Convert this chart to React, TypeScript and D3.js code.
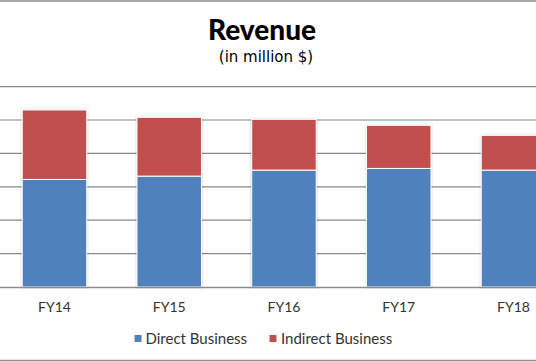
import React from "react";
import * as d3 from "d3";

const categories = ["FY14", "FY15", "FY16", "FY17", "FY18"];
const directBusiness = [322, 332, 350, 355, 350];
const indirectBusiness = [208, 176, 152, 129, 104];
const seriesNames = ["Direct Business", "Indirect Business"];
const seriesColors = ["#4F81BD", "#C0504D"];
const yTicks = [0, 100, 200, 300, 400, 500, 600];

const W = 536;
const H = 362;
const FONT = "Lato, 'Noto Sans', sans-serif";
const TFONT = "'DejaVu Sans', sans-serif";

export default function App() {
  const x = d3
    .scaleBand<string>()
    .domain(categories)
    .range([-2.9, 570.85])
    .paddingInner(0.438)
    .paddingOuter(0.219);
  const y = d3.scaleLinear().domain([0, 600]).range([287, 86.6]);

  const rows = categories.map((c, i) => ({
    cat: c,
    direct: directBusiness[i],
    indirect: indirectBusiness[i],
  }));
  const stack = d3.stack<any>().keys(["direct", "indirect"]);
  const layers = stack(rows);

  return (
    <svg
      width={W}
      height={H}
      style={{ position: "absolute", left: 0, top: 0, background: "#fff" }}
    >
      <defs>
        <filter id="sh" x="-10%" y="-10%" width="120%" height="120%">
          <feDropShadow dx="0" dy="0" stdDeviation="1.2" floodColor="#000" floodOpacity="0.25" />
        </filter>
      </defs>
      <rect x={0} y={0} width={W} height={H} fill="#fff" />
      <line x1={0} x2={W} y1={1} y2={1} stroke="#8c8c8c" strokeWidth={1.5} />
      <line x1={0} x2={W} y1={360.5} y2={360.5} stroke="#8c8c8c" strokeWidth={1.5} />

      <text x={262} y={40} textAnchor="middle" fontFamily={FONT} fontWeight={900} fontSize={28} fill="#000">
        Revenue
      </text>
      <text x={266} y={62} textAnchor="middle" fontFamily={TFONT} fontSize={15} fill="#000">
        (in million $)
      </text>

      {yTicks.slice(1).map((t) => (
        <line key={t} x1={0} x2={W} y1={y(t)} y2={y(t)} stroke="#888" strokeWidth={1.2} />
      ))}

      <g filter="url(#sh)">
        {layers.map((layer, li) =>
          layer.map((d: any, i: number) => (
            <rect
              key={li + "-" + i}
              x={x(categories[i])}
              y={y(d[1])}
              width={x.bandwidth()}
              height={y(d[0]) - y(d[1])}
              fill={seriesColors[li]}
              stroke="#fff"
              strokeWidth={1}
            />
          ))
        )}
      </g>

      <line x1={0} x2={W} y1={y(0) + 0.5} y2={y(0) + 0.5} stroke="#8c8c8c" strokeWidth={1.5} />

      {categories.map((c) => (
        <text
          key={c}
          x={(x(c) as number) + x.bandwidth() / 2}
          y={312}
          textAnchor="middle"
          fontFamily={FONT}
          fontSize={14}
          fill="#333"
        >
          {c}
        </text>
      ))}

      <g>
        <rect x={134.5} y={335} width={7} height={7} fill={seriesColors[0]} />
        <text x={145.5} y={344} fontFamily={FONT} fontSize={15} fill="#333">
          {seriesNames[0]}
        </text>
        <rect x={269.5} y={335} width={7} height={7} fill={seriesColors[1]} />
        <text x={281} y={344} fontFamily={FONT} fontSize={15} fill="#333">
          {seriesNames[1]}
        </text>
      </g>
    </svg>
  );
}
